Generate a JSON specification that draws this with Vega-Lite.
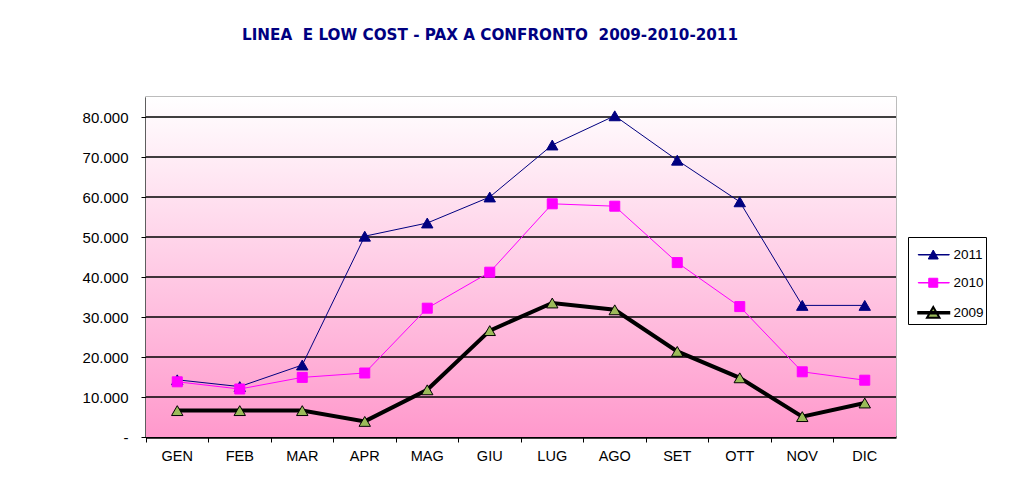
{
  "$schema": "https://vega.github.io/schema/vega-lite/v6.json",
  "width": 750,
  "height": 340,
  "autosize": {"type": "none"},
  "padding": {"left": 146, "top": 97, "right": 136, "bottom": 53},
  "background": "white",
  "title": {
    "text": "LINEA\u00a0 E LOW COST - PAX A CONFRONTO\u00a0 2009-2010-2011",
    "font": "DejaVu Sans",
    "fontWeight": "bold",
    "fontSize": 15.2,
    "color": "#000080",
    "anchor": "middle",
    "frame": "group",
    "baseline": "bottom",
    "offset": 39,
    "dx": -31
  },
  "config": {
    "view": {"stroke": "#a6a6a6", "strokeWidth": 1.5},
    "axisX": {"domainColor": "black", "domainWidth": 2.5, "tickColor": "black", "tickWidth": 1, "tickSize": 5, "labelFont": "Liberation Sans", "labelFontSize": 14.5, "labelColor": "black", "labelPadding": 7, "grid": false},
    "axisY": {"domainColor": "black", "domainWidth": 2, "tickColor": "black", "tickWidth": 1, "tickSize": 5, "labelFont": "Liberation Sans", "labelFontSize": 15, "labelColor": "black", "labelPadding": 13, "grid": false}
  },
  "datasets": {
    "pax": [
      {"mese": "GEN", "anno": "2011", "pax": 14300},
      {"mese": "FEB", "anno": "2011", "pax": 12600},
      {"mese": "MAR", "anno": "2011", "pax": 18000},
      {"mese": "APR", "anno": "2011", "pax": 50200},
      {"mese": "MAG", "anno": "2011", "pax": 53500},
      {"mese": "GIU", "anno": "2011", "pax": 60000},
      {"mese": "LUG", "anno": "2011", "pax": 73000},
      {"mese": "AGO", "anno": "2011", "pax": 80300},
      {"mese": "SET", "anno": "2011", "pax": 69200},
      {"mese": "OTT", "anno": "2011", "pax": 58800},
      {"mese": "NOV", "anno": "2011", "pax": 32900},
      {"mese": "DIC", "anno": "2011", "pax": 32900},
      {"mese": "GEN", "anno": "2010", "pax": 13800},
      {"mese": "FEB", "anno": "2010", "pax": 12000},
      {"mese": "MAR", "anno": "2010", "pax": 14900},
      {"mese": "APR", "anno": "2010", "pax": 16000},
      {"mese": "MAG", "anno": "2010", "pax": 32200},
      {"mese": "GIU", "anno": "2010", "pax": 41200},
      {"mese": "LUG", "anno": "2010", "pax": 58300},
      {"mese": "AGO", "anno": "2010", "pax": 57700},
      {"mese": "SET", "anno": "2010", "pax": 43600},
      {"mese": "OTT", "anno": "2010", "pax": 32600},
      {"mese": "NOV", "anno": "2010", "pax": 16300},
      {"mese": "DIC", "anno": "2010", "pax": 14200},
      {"mese": "GEN", "anno": "2009", "pax": 6600},
      {"mese": "FEB", "anno": "2009", "pax": 6600},
      {"mese": "MAR", "anno": "2009", "pax": 6600},
      {"mese": "APR", "anno": "2009", "pax": 3900},
      {"mese": "MAG", "anno": "2009", "pax": 11800},
      {"mese": "GIU", "anno": "2009", "pax": 26600},
      {"mese": "LUG", "anno": "2009", "pax": 33500},
      {"mese": "AGO", "anno": "2009", "pax": 31800},
      {"mese": "SET", "anno": "2009", "pax": 21400},
      {"mese": "OTT", "anno": "2009", "pax": 14800},
      {"mese": "NOV", "anno": "2009", "pax": 5100},
      {"mese": "DIC", "anno": "2009", "pax": 8500}
    ],
    "sfondo": [{"lo": 0, "hi": 85000}],
    "griglia": [{"g": 10000}, {"g": 20000}, {"g": 30000}, {"g": 40000}, {"g": 50000}, {"g": 60000}, {"g": 70000}, {"g": 80000}]
  },
  "encoding": {
    "x": {"field": "mese", "type": "nominal", "title": null, "sort": ["GEN", "FEB", "MAR", "APR", "MAG", "GIU", "LUG", "AGO", "SET", "OTT", "NOV", "DIC"],
          "scale": {"type": "band", "paddingInner": 0, "paddingOuter": 0},
          "axis": {"bandPosition": 0, "labelAngle": 0}},
    "y": {"field": "pax", "type": "quantitative", "title": null, "scale": {"domain": [0, 85000], "nice": false},
          "axis": {"values": [0, 10000, 20000, 30000, 40000, 50000, 60000, 70000, 80000], "labelExpr": "datum.value == 0 ? '-\u00a0\u00a0' : replace(format(datum.value, ',.0f'), ',', '.')"}}
  },
  "layer": [
    {
      "data": {"name": "sfondo"},
      "mark": {
        "type": "rect",
        "color": {"gradient": "linear", "x1": 0, "y1": 0, "x2": 0, "y2": 1, "stops": [{"offset": 0, "color": "#ffffff"}, {"offset": 1, "color": "#ff99cc"}]}
      },
      "encoding": {
        "x": null,
        "y": {"field": "lo", "type": "quantitative", "title": null},
        "y2": {"field": "hi"}
      }
    },
    {
      "data": {"name": "griglia"},
      "mark": {"type": "rule", "color": "#000000", "strokeWidth": 1.5},
      "encoding": {
        "x": null,
        "y": {"field": "g", "type": "quantitative", "title": null}
      }
    },
    {
      "data": {"name": "pax"},
      "transform": [{"filter": "datum.anno == '2009'"}],
      "mark": {"type": "line", "color": "#000000", "strokeWidth": 4},
      "encoding": {}
    },
    {
      "data": {"name": "pax"},
      "transform": [{"filter": "datum.anno != '2009'"}],
      "mark": {"type": "line", "strokeWidth": 1},
      "encoding": {
        "color": {"field": "anno", "type": "nominal",
                  "scale": {"domain": ["2011", "2010", "2009"], "range": ["#000080", "#ff00ff", "#000000"]},
                  "legend": {
                    "title": "\u00a0",
                    "titleFontSize": 6,
                    "titlePadding": 3,
                    "orient": "none",
                    "legendX": 762,
                    "legendY": 140,
                    "values": ["2011", "2010", "2009"],
                    "strokeColor": "#000000",
                    "fillColor": "#ffffff",
                    "padding": 2,
                    "rowPadding": 13,
                    "symbolSize": 625,
                    "symbolOffset": 8,
                    "symbolType": "M-0.52,-0.02L1.96,-0.02L1.96,0.02L-0.52,0.02ZM0.68,-0.38L1.08,0.34L0.28,0.34Z",
                    "labelOffset": 22,
                    "labelFont": "Liberation Sans",
                    "labelFontSize": 13.5,
                    "labelColor": "#000000",
                    "encode": {
                      "symbols": {
                        "update": {
                          "shape": {"signal": "datum.value === '2010' ? 'M-0.52,-0.02L1.96,-0.02L1.96,0.02L-0.52,0.02ZM0.32,-0.36L1.04,-0.36L1.04,0.36L0.32,0.36Z' : datum.value === '2009' ? 'M-0.52,-0.06L1.96,-0.06L1.96,0.06L-0.52,0.06ZM0.68,-0.46L1.18,0.4L0.18,0.4Z' : 'M-0.52,-0.02L1.96,-0.02L1.96,0.02L-0.52,0.02ZM0.68,-0.38L1.08,0.34L0.28,0.34Z'"},
                          "fill": {"signal": "datum.value === '2009' ? '#9bbb59' : datum.value === '2010' ? '#ff00ff' : '#000080'"},
                          "stroke": {"signal": "datum.value === '2009' ? '#000000' : datum.value === '2010' ? '#ff00ff' : '#000080'"},
                          "strokeWidth": {"signal": "datum.value === '2009' ? 2 : 1"},
                          "opacity": {"value": 1},
                          "fillOpacity": {"value": 1},
                          "strokeOpacity": {"value": 1}
                        }
                      }
                    }
                  }}
      }
    },
    {
      "data": {"name": "pax"},
      "transform": [{"filter": "datum.anno == '2011'"}],
      "mark": {"type": "point", "shape": "triangle-up", "filled": true, "opacity": 1, "fill": "#000080", "stroke": "#000080", "strokeWidth": 1, "size": 130},
      "encoding": {}
    },
    {
      "data": {"name": "pax"},
      "transform": [{"filter": "datum.anno == '2010'"}],
      "mark": {"type": "point", "shape": "square", "filled": true, "opacity": 1, "fill": "#ff00ff", "stroke": "#ff00ff", "strokeWidth": 1, "size": 100},
      "encoding": {}
    },
    {
      "data": {"name": "pax"},
      "transform": [{"filter": "datum.anno == '2009'"}],
      "mark": {"type": "point", "shape": "triangle-up", "filled": true, "opacity": 1, "fill": "#9bbb59", "stroke": "#000000", "strokeWidth": 1, "size": 130},
      "encoding": {}
    }
  ]
}
